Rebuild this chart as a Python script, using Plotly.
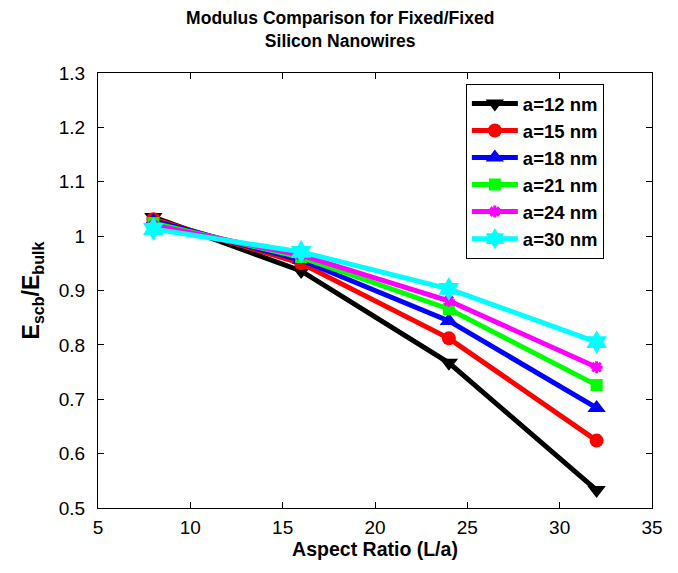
import plotly.graph_objects as go

aspect = [8, 16, 24, 32]
labels = ["a=12 nm", "a=15 nm", "a=18 nm", "a=21 nm", "a=24 nm", "a=30 nm"]
a12 = [1.035, 0.936, 0.767, 0.533]
a15 = [1.031, 0.950, 0.812, 0.624]
a18 = [1.028, 0.956, 0.844, 0.684]
a21 = [1.024, 0.961, 0.866, 0.726]
a24 = [1.020, 0.965, 0.881, 0.759]
a30 = [1.013, 0.971, 0.903, 0.805]
series = [a12, a15, a18, a21, a24, a30]
yticks = [0.5, 0.6, 0.7, 0.8, 0.9, 1.0, 1.1, 1.2, 1.3]
yticktext = ["0.5", "0.6", "0.7", "0.8", "0.9", "1", "1.1", "1.2", "1.3"]

colors = ["#000000", "#ff0000", "#0000ff", "#00ff00", "#ff00ff", "#00ffff"]
symbols = ["triangle-down", "circle", "triangle-up", "square", "asterisk-open", "hexagram"]
sizes = [16, 14, 16, 12, 10, 18]
FONT = "Liberation Sans, Arial"

fig = go.Figure()
for lab, ys, c, s, sz in zip(labels, series, colors, symbols, sizes):
    fig.add_trace(go.Scatter(
        x=aspect, y=ys, name=lab, mode="lines+markers",
        line=dict(color=c, width=5),
        marker=dict(symbol=s, size=sz, color=c,
                    line=dict(color=c, width=3 if s == "asterisk-open" else 0)),
    ))

axis_common = dict(
    showline=True, linecolor="black", linewidth=1, mirror="allticks",
    ticks="inside", ticklen=6, tickcolor="black", showgrid=False, zeroline=False,
    tickfont=dict(family=FONT, size=19, color="black"),
)
fig.update_layout(
    width=678, height=573,
    margin=dict(l=90, r=34, t=65, b=73),
    paper_bgcolor="white", plot_bgcolor="white",
    title=dict(
        text="<b>Modulus Comparison for Fixed/Fixed<br>Silicon Nanowires</b>",
        x=0.49, xanchor="center", y=0.972, yanchor="top",
        font=dict(family=FONT, size=17.5, color="black"),
    ),
    xaxis=dict(range=[5, 35], dtick=5, ticklabelstandoff=2,
               title=dict(text="<b>Aspect Ratio (L/a)</b>", standoff=5,
                          font=dict(family=FONT, size=19.5, color="black")),
               **axis_common),
    yaxis=dict(range=[0.5, 1.3], tickvals=yticks, ticktext=yticktext,
               ticklabelstandoff=8,
               title=dict(text="<b>E<sub>scb</sub>/E<sub>bulk</sub></b>", standoff=12,
                          font=dict(family=FONT, size=23, color="black")),
               **axis_common),
    legend=dict(
        x=0.664, y=0.975, xanchor="left", yanchor="top",
        bgcolor="white", bordercolor="black", borderwidth=1,
        font=dict(family=FONT, size=18.5, color="black", weight="bold"),
        tracegroupgap=0, itemwidth=46,
    ),
    showlegend=True,
)

fig.write_html("out.html")
